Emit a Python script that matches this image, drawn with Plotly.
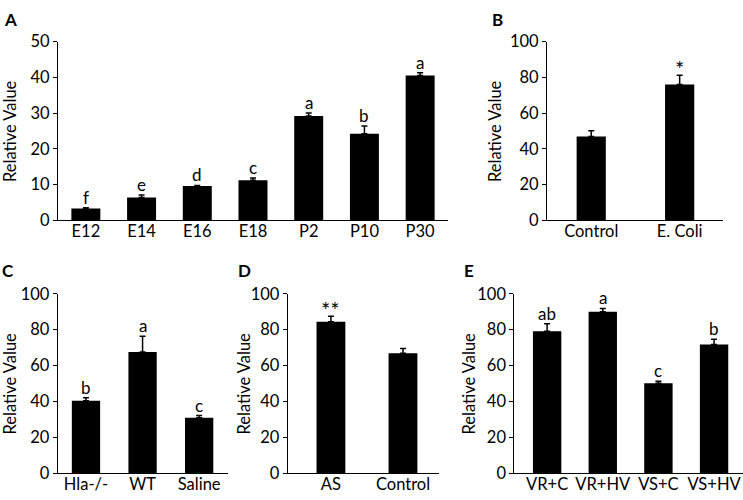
import plotly.graph_objects as go

# ---------------- data ----------------
a_cats = ["E12", "E14", "E16", "E18", "P2", "P10", "P30"]
a_vals = [3.3, 6.4, 9.6, 11.2, 29.2, 24.2, 40.5]
a_errs = [0.2, 0.7, 0.15, 0.6, 0.8, 2.2, 0.8]
a_marks = ["f", "e", "d", "c", "a", "b", "a"]

b_cats = ["Control", "E. Coli"]
b_vals = [46.9, 76.0]
b_errs = [3.2, 5.2]
b_marks = ["", "*"]

c_cats = ["Hla-/-", "WT", "Saline"]
c_vals = [40.3, 67.6, 30.8]
c_errs = [1.7, 8.8, 1.3]
c_marks = ["b", "a", "c"]

d_cats = ["AS", "Control"]
d_vals = [84.5, 66.8]
d_errs = [3.0, 2.7]
d_marks = ["**", ""]

e_cats = ["VR+C", "VR+HV", "VS+C", "VS+HV"]
e_vals = [79.2, 90.0, 50.1, 71.7]
e_errs = [4.1, 1.9, 1.1, 3.0]
e_marks = ["ab", "a", "c", "b"]

ytitle = "Relative Value"

# ---------------- layout helpers ----------------
W, H = 743, 500
FONT = "Lato, 'Open Sans', sans-serif"
TICK = 16.5

def px(x):
    return x / W

def py(y):
    return 1 - y / H

panels = [
    dict(c=a_cats, v=a_vals, e=a_errs, m=a_marks, xd=(58, 448), yd=(219, 33),
         xr=[-0.5, 6.5], yr=[0, 50], dt=10, bw=0.52, L="A", Lp=(10, 10), tx=10),
    dict(c=b_cats, v=b_vals, e=b_errs, m=b_marks, xd=(547, 723), yd=(219, 33),
         xr=[-0.5, 1.49], yr=[0, 100], dt=20, bw=0.33, L="B", Lp=(497, 10), tx=495),
    dict(c=c_cats, v=c_vals, e=c_errs, m=c_marks, xd=(57.7, 228), yd=(482.3, 295.7),
         xr=[-0.5, 2.51], yr=[0, 100], dt=20, bw=0.5, L="C", Lp=(8, 271), tx=10),
    dict(c=d_cats, v=d_vals, e=d_errs, m=d_marks, xd=(287.7, 439), yd=(482.3, 295.7),
         xr=[-0.6, 1.5], yr=[0, 100], dt=20, bw=0.4, L="D", Lp=(244, 271), tx=244),
    dict(c=e_cats, v=e_vals, e=e_errs, m=e_marks, xd=(514.3, 743), yd=(482.3, 295.7),
         xr=[-0.59, 3.52], yr=[0, 100], dt=20, bw=0.51, L="E", Lp=(469, 271), tx=469),
]

fig = go.Figure()
annotations = []
layout = {}

for i, p in enumerate(panels, start=1):
    sx = "" if i == 1 else str(i)
    xa, ya = "x" + sx, "y" + sx
    fig.add_trace(go.Bar(
        x=p["c"], y=p["v"], xaxis=xa, yaxis=ya,
        width=p["bw"],
        marker=dict(color="black", line=dict(width=0)),
        error_y=dict(type="data", array=p["e"], arrayminus=[0] * len(p["e"]),
                     symmetric=False, color="black", thickness=1.5, width=3),
        showlegend=False, hoverinfo="x+y",
    ))
    layout["xaxis" + sx] = dict(
        domain=[px(p["xd"][0]), px(p["xd"][1])], anchor=ya,
        type="category", range=p["xr"], showgrid=False, zeroline=False,
        showline=True, linecolor="black", linewidth=1, ticks="",
        ticklabelstandoff=-4,
        tickfont=dict(family=FONT, size=TICK, color="black"),
        fixedrange=True,
    )
    layout["yaxis" + sx] = dict(
        domain=[py(p["yd"][0]), py(p["yd"][1])], anchor=xa,
        range=p["yr"], dtick=p["dt"], tick0=0, showgrid=False, zeroline=False,
        showline=True, linecolor="black", linewidth=1,
        ticks="outside", ticklen=4, tickwidth=1, tickcolor="black",
        tickfont=dict(family=FONT, size=TICK, color="black"),
        fixedrange=True,
    )
    for cat, v, e, m in zip(p["c"], p["v"], p["e"], p["m"]):
        if m:
            star = m.startswith("*")
            annotations.append(dict(
                x=cat, y=v + e, xref=xa, yref=ya, text=m, showarrow=False,
                yanchor="bottom", xanchor="center",
                yshift=-9 if star else -2,
                font=dict(family=FONT, size=22 if star else 17, color="black"),
            ))
    annotations.append(dict(
        x=px(p["Lp"][0]), y=py(p["Lp"][1]), xref="paper", yref="paper",
        text="<b>" + p["L"] + "</b>", showarrow=False,
        xanchor="center", yanchor="middle",
        font=dict(family=FONT, size=17, color="black"),
    ))
    ymid = (p["yd"][0] + p["yd"][1]) / 2
    annotations.append(dict(
        x=px(p["tx"]), y=py(ymid), xref="paper", yref="paper",
        text=ytitle, textangle=-90, showarrow=False,
        xanchor="center", yanchor="middle",
        font=dict(family=FONT, size=16.5, color="black"),
    ))

fig.update_layout(
    width=W, height=H,
    margin=dict(l=0, r=0, t=0, b=0),
    paper_bgcolor="white", plot_bgcolor="white",
    annotations=annotations,
    **layout,
)

fig.write_html("out.html", config={"displayModeBar": False},
               post_script="document.body.style.margin='0';")
